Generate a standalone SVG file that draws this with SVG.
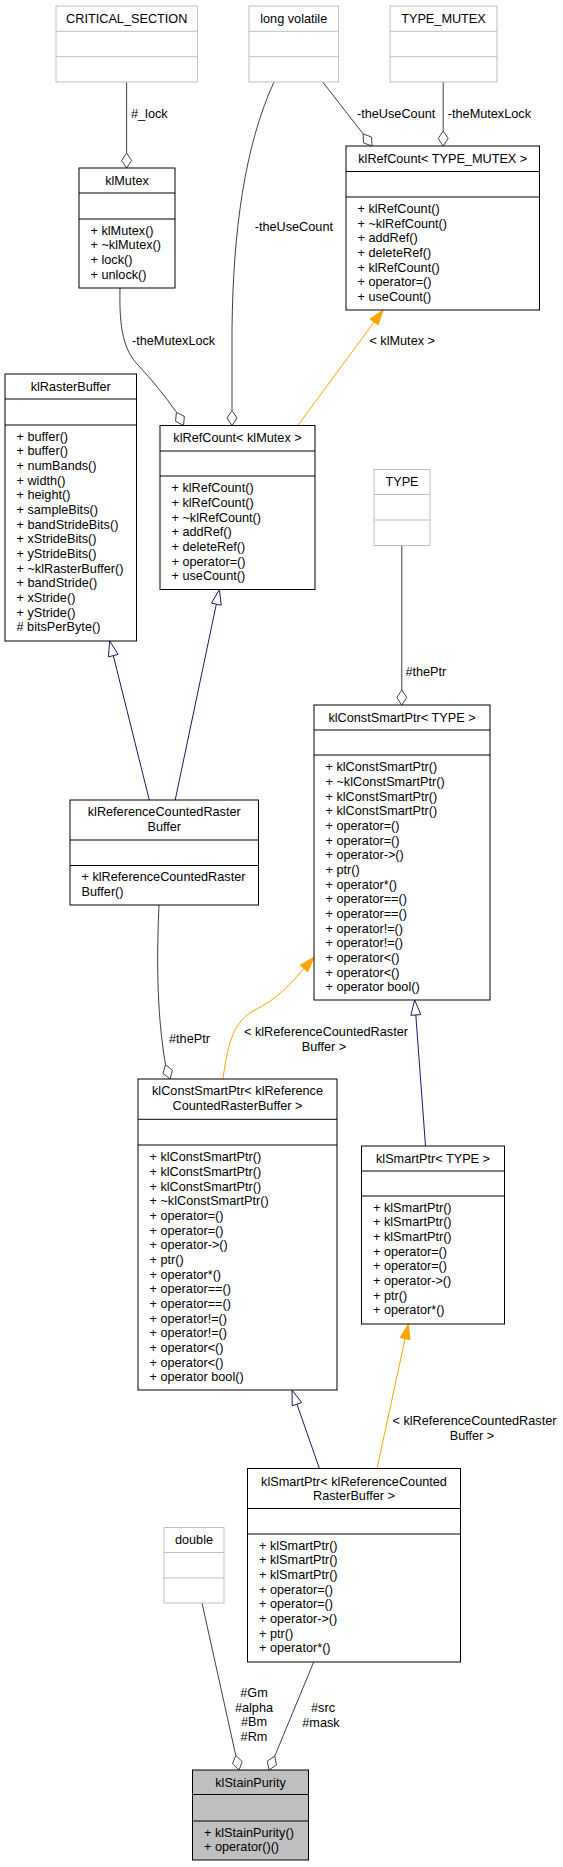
<svg xmlns="http://www.w3.org/2000/svg" width="563" height="1867" viewBox="0 0 563 1867">
<style>
text{font-family:"Liberation Sans",Arial,sans-serif;font-size:12.7px;fill:#000}
.c{text-anchor:middle}
.b{fill:#fff;stroke:#000;stroke-width:1}
.g{fill:#fff;stroke:#bfbfbf;stroke-width:1}
.s{fill:#bfbfbf;stroke:#000;stroke-width:1}
.lb{stroke:#000;stroke-width:1}
.lg{stroke:#bfbfbf;stroke-width:1}
.a{fill:none;stroke:#404040;stroke-width:1}
.i{fill:none;stroke:#191970;stroke-width:1}
.o{fill:none;stroke:#ffa500;stroke-width:1}
.dm{fill:#fff;stroke:#404040;stroke-width:1}
.ti{fill:#fff;stroke:#191970;stroke-width:1}
.to{fill:#ffa500;stroke:#ffa500;stroke-width:1}
</style>
<g id="connectors">
<path class="a" d="M126.6,82 L126.6,153"/>
<polygon class="dm" points="126.6,168 131.6,160.5 126.6,153 121.6,160.5"/>
<text x="131" y="117.5">#_lock</text>
<path class="a" d="M322.7,82 L363.1,133.9"/>
<polygon class="dm" points="372,146 371.57,137 363.09,133.94 363.53,142.94"/>
<text x="357" y="117.5">-theUseCount</text>
<path class="a" d="M443.2,82 L443.2,131"/>
<polygon class="dm" points="443.2,146 448.2,138.5 443.2,131 438.2,138.5"/>
<text x="447.8" y="117.5">-theMutexLock</text>
<path class="a" d="M120,288 C119,330 124,350 138,365 C152,380 165,396 176.44,412.27"/>
<polygon class="dm" points="183.5,425.5 184.38,416.53 176.44,412.27 175.56,421.24"/>
<text x="132" y="345">-theMutexLock</text>
<path class="a" d="M274,82 C245,145 233,230 232,330 L232,410.5"/>
<polygon class="dm" points="232,425.5 237,418 232,410.5 227,418"/>
<text x="254.7" y="231">-theUseCount</text>
<path class="o" d="M297.8,425.5 L374.09,322.07"/>
<polygon class="to" points="383,310 378.11,325.04 370.07,319.1"/>
<text x="369.4" y="345">&lt; klMutex &gt;</text>
<path class="a" d="M401.8,545.5 L401.8,690"/>
<polygon class="dm" points="401.8,705 406.8,697.5 401.8,690 396.8,697.5"/>
<text x="405.4" y="676">#thePtr</text>
<path class="i" d="M149.3,800 L113.3,655.6"/>
<polygon class="ti" points="109.7,641 118.15,654.39 108.45,656.81"/>
<path class="i" d="M175.2,800 L216.32,604.18"/>
<polygon class="ti" points="219.4,589.5 221.21,605.21 211.43,603.15"/>
<path class="a" d="M159,905 C157,950 156,1010 165.55,1064.68"/>
<polygon class="dm" points="170,1079 172.56,1070.36 165.55,1064.68 163,1073.32"/>
<text x="169" y="1043">#thePtr</text>
<path class="o" d="M223,1079 C228,1040 235,1020 255,1010 C272,1001 283,993 304.03,968.49"/>
<polygon class="to" points="314,957.3 307.76,971.82 300.3,965.17"/>
<text class="c" x="326" y="1036">&lt; klReferenceCountedRaster</text>
<text class="c" x="324" y="1051">Buffer &gt;</text>
<path class="i" d="M425.5,1146 L415.81,1014.96"/>
<polygon class="ti" points="414.7,1000 420.8,1014.59 410.82,1015.33"/>
<path class="i" d="M319.4,1468.5 L296.95,1404.17"/>
<polygon class="ti" points="292,1390 301.67,1402.52 292.23,1405.82"/>
<path class="o" d="M377,1468.5 L405.12,1338.66"/>
<polygon class="to" points="408.3,1324 410.01,1339.72 400.23,1337.6"/>
<text class="c" x="474.5" y="1425">&lt; klReferenceCountedRaster</text>
<text class="c" x="472" y="1440">Buffer &gt;</text>
<path class="a" d="M202,1603 L235.75,1755.36"/>
<polygon class="dm" points="239,1770 242.26,1761.6 235.75,1755.36 232.5,1763.76"/>
<text class="c" x="254" y="1697">#Gm</text>
<text class="c" x="254" y="1711.7">#alpha</text>
<text class="c" x="254" y="1726.3">#Bm</text>
<text class="c" x="254" y="1741">#Rm</text>
<path class="a" d="M313.7,1662 L274.74,1756.14"/>
<polygon class="dm" points="269,1770 276.49,1764.98 274.74,1756.14 267.25,1761.16"/>
<text class="c" x="323" y="1712">#src</text>
<text class="c" x="321" y="1726.7">#mask</text>
</g>
<g id="CRITICAL_SECTION">
<rect class="g" x="56" y="6" width="141.5" height="76"/>
<line class="lg" x1="56" y1="31.3" x2="197.5" y2="31.3"/>
<line class="lg" x1="56" y1="56.7" x2="197.5" y2="56.7"/>
<text class="c" x="126.75" y="22.7">CRITICAL_SECTION</text>
</g>
<g id="long_volatile">
<rect class="g" x="249" y="6" width="89.5" height="76"/>
<line class="lg" x1="249" y1="31.3" x2="338.5" y2="31.3"/>
<line class="lg" x1="249" y1="56.7" x2="338.5" y2="56.7"/>
<text class="c" x="293.75" y="22.7">long volatile</text>
</g>
<g id="TYPE_MUTEX">
<rect class="g" x="390" y="6" width="107" height="76"/>
<line class="lg" x1="390" y1="31.3" x2="497" y2="31.3"/>
<line class="lg" x1="390" y1="56.7" x2="497" y2="56.7"/>
<text class="c" x="443.5" y="22.7">TYPE_MUTEX</text>
</g>
<g id="klMutex">
<rect class="b" x="79" y="168" width="96" height="120"/>
<line class="lb" x1="79" y1="193" x2="175" y2="193"/>
<line class="lb" x1="79" y1="219" x2="175" y2="219"/>
<text class="c" x="127" y="184.7">klMutex</text>
<text x="90.5" y="234.5">+ klMutex()</text>
<text x="90.5" y="249.2">+ ~klMutex()</text>
<text x="90.5" y="263.8">+ lock()</text>
<text x="90.5" y="278.5">+ unlock()</text>
</g>
<g id="klRefCount_TYPE_MUTEX">
<rect class="b" x="346" y="146" width="193.5" height="164"/>
<line class="lb" x1="346" y1="171.5" x2="539.5" y2="171.5"/>
<line class="lb" x1="346" y1="197" x2="539.5" y2="197"/>
<text class="c" x="442.75" y="162.7">klRefCount&lt; TYPE_MUTEX &gt;</text>
<text x="357.5" y="212.8">+ klRefCount()</text>
<text x="357.5" y="227.5">+ ~klRefCount()</text>
<text x="357.5" y="242.1">+ addRef()</text>
<text x="357.5" y="256.8">+ deleteRef()</text>
<text x="357.5" y="271.5">+ klRefCount()</text>
<text x="357.5" y="286.2">+ operator=()</text>
<text x="357.5" y="300.8">+ useCount()</text>
</g>
<g id="klRasterBuffer">
<rect class="b" x="5" y="374" width="131.5" height="267"/>
<line class="lb" x1="5" y1="399" x2="136.5" y2="399"/>
<line class="lb" x1="5" y1="425" x2="136.5" y2="425"/>
<text class="c" x="70.75" y="390.7">klRasterBuffer</text>
<text x="16.5" y="440.5">+ buffer()</text>
<text x="16.5" y="455.2">+ buffer()</text>
<text x="16.5" y="469.8">+ numBands()</text>
<text x="16.5" y="484.5">+ width()</text>
<text x="16.5" y="499.2">+ height()</text>
<text x="16.5" y="513.8">+ sampleBits()</text>
<text x="16.5" y="528.5">+ bandStrideBits()</text>
<text x="16.5" y="543.2">+ xStrideBits()</text>
<text x="16.5" y="557.9">+ yStrideBits()</text>
<text x="16.5" y="572.5">+ ~klRasterBuffer()</text>
<text x="16.5" y="587.2">+ bandStride()</text>
<text x="16.5" y="601.9">+ xStride()</text>
<text x="16.5" y="616.5">+ yStride()</text>
<text x="16.5" y="631.2"># bitsPerByte()</text>
</g>
<g id="klRefCount_klMutex">
<rect class="b" x="160" y="425.5" width="155" height="164"/>
<line class="lb" x1="160" y1="451" x2="315" y2="451"/>
<line class="lb" x1="160" y1="476" x2="315" y2="476"/>
<text class="c" x="237.5" y="442">klRefCount&lt; klMutex &gt;</text>
<text x="171.5" y="492.2">+ klRefCount()</text>
<text x="171.5" y="506.9">+ klRefCount()</text>
<text x="171.5" y="521.5">+ ~klRefCount()</text>
<text x="171.5" y="536.2">+ addRef()</text>
<text x="171.5" y="550.9">+ deleteRef()</text>
<text x="171.5" y="565.5">+ operator=()</text>
<text x="171.5" y="580.2">+ useCount()</text>
</g>
<g id="TYPE">
<rect class="g" x="374" y="469.5" width="56" height="76"/>
<line class="lg" x1="374" y1="494.5" x2="430" y2="494.5"/>
<line class="lg" x1="374" y1="520" x2="430" y2="520"/>
<text class="c" x="402" y="486">TYPE</text>
</g>
<g id="klConstSmartPtr_TYPE">
<rect class="b" x="314" y="705" width="176" height="295"/>
<line class="lb" x1="314" y1="730" x2="490" y2="730"/>
<line class="lb" x1="314" y1="755" x2="490" y2="755"/>
<text class="c" x="402" y="721.5">klConstSmartPtr&lt; TYPE &gt;</text>
<text x="325.5" y="771.2">+ klConstSmartPtr()</text>
<text x="325.5" y="785.9">+ ~klConstSmartPtr()</text>
<text x="325.5" y="800.5">+ klConstSmartPtr()</text>
<text x="325.5" y="815.2">+ klConstSmartPtr()</text>
<text x="325.5" y="829.9">+ operator=()</text>
<text x="325.5" y="844.5">+ operator=()</text>
<text x="325.5" y="859.2">+ operator-&gt;()</text>
<text x="325.5" y="873.9">+ ptr()</text>
<text x="325.5" y="888.6">+ operator*()</text>
<text x="325.5" y="903.2">+ operator==()</text>
<text x="325.5" y="917.9">+ operator==()</text>
<text x="325.5" y="932.6">+ operator!=()</text>
<text x="325.5" y="947.2">+ operator!=()</text>
<text x="325.5" y="961.9">+ operator&lt;()</text>
<text x="325.5" y="976.6">+ operator&lt;()</text>
<text x="325.5" y="991.2">+ operator bool()</text>
</g>
<g id="klReferenceCountedRasterBuffer">
<rect class="b" x="70" y="800" width="188.5" height="105"/>
<line class="lb" x1="70" y1="840" x2="258.5" y2="840"/>
<line class="lb" x1="70" y1="865.5" x2="258.5" y2="865.5"/>
<text class="c" x="164.25" y="816.2">klReferenceCountedRaster</text>
<text class="c" x="164.25" y="830.8">Buffer</text>
<text x="81.5" y="881.2">+ klReferenceCountedRaster</text>
<text x="81.5" y="895.8">Buffer()</text>
</g>
<g id="klConstSmartPtr_klReferenceCountedRasterBuffer">
<rect class="b" x="138" y="1079" width="199" height="311"/>
<line class="lb" x1="138" y1="1119.3" x2="337" y2="1119.3"/>
<line class="lb" x1="138" y1="1145" x2="337" y2="1145"/>
<text class="c" x="237.5" y="1095.2">klConstSmartPtr&lt; klReference</text>
<text class="c" x="237.5" y="1110.2">CountedRasterBuffer &gt;</text>
<text x="149.5" y="1161.2">+ klConstSmartPtr()</text>
<text x="149.5" y="1175.9">+ klConstSmartPtr()</text>
<text x="149.5" y="1190.5">+ klConstSmartPtr()</text>
<text x="149.5" y="1205.2">+ ~klConstSmartPtr()</text>
<text x="149.5" y="1219.9">+ operator=()</text>
<text x="149.5" y="1234.5">+ operator=()</text>
<text x="149.5" y="1249.2">+ operator-&gt;()</text>
<text x="149.5" y="1263.9">+ ptr()</text>
<text x="149.5" y="1278.6">+ operator*()</text>
<text x="149.5" y="1293.2">+ operator==()</text>
<text x="149.5" y="1307.9">+ operator==()</text>
<text x="149.5" y="1322.6">+ operator!=()</text>
<text x="149.5" y="1337.2">+ operator!=()</text>
<text x="149.5" y="1351.9">+ operator&lt;()</text>
<text x="149.5" y="1366.6">+ operator&lt;()</text>
<text x="149.5" y="1381.2">+ operator bool()</text>
</g>
<g id="klSmartPtr_TYPE">
<rect class="b" x="361.5" y="1146" width="143" height="178"/>
<line class="lb" x1="361.5" y1="1171" x2="504.5" y2="1171"/>
<line class="lb" x1="361.5" y1="1196" x2="504.5" y2="1196"/>
<text class="c" x="433" y="1162.5">klSmartPtr&lt; TYPE &gt;</text>
<text x="373" y="1211.5">+ klSmartPtr()</text>
<text x="373" y="1226.2">+ klSmartPtr()</text>
<text x="373" y="1240.8">+ klSmartPtr()</text>
<text x="373" y="1255.5">+ operator=()</text>
<text x="373" y="1270.2">+ operator=()</text>
<text x="373" y="1284.8">+ operator-&gt;()</text>
<text x="373" y="1299.5">+ ptr()</text>
<text x="373" y="1314.2">+ operator*()</text>
</g>
<g id="klSmartPtr_klReferenceCountedRasterBuffer">
<rect class="b" x="247.5" y="1468.5" width="213" height="193.5"/>
<line class="lb" x1="247.5" y1="1508.5" x2="460.5" y2="1508.5"/>
<line class="lb" x1="247.5" y1="1534" x2="460.5" y2="1534"/>
<text class="c" x="354" y="1485.5">klSmartPtr&lt; klReferenceCounted</text>
<text class="c" x="354" y="1500">RasterBuffer &gt;</text>
<text x="259" y="1549.5">+ klSmartPtr()</text>
<text x="259" y="1564.2">+ klSmartPtr()</text>
<text x="259" y="1578.8">+ klSmartPtr()</text>
<text x="259" y="1593.5">+ operator=()</text>
<text x="259" y="1608.2">+ operator=()</text>
<text x="259" y="1622.8">+ operator-&gt;()</text>
<text x="259" y="1637.5">+ ptr()</text>
<text x="259" y="1652.2">+ operator*()</text>
</g>
<g id="double">
<rect class="g" x="164" y="1527.5" width="60" height="75.5"/>
<line class="lg" x1="164" y1="1552.5" x2="224" y2="1552.5"/>
<line class="lg" x1="164" y1="1578" x2="224" y2="1578"/>
<text class="c" x="194" y="1544">double</text>
</g>
<g id="klStainPurity">
<rect class="s" x="192.5" y="1770" width="116" height="90"/>
<line class="lb" x1="192.5" y1="1794.5" x2="308.5" y2="1794.5"/>
<line class="lb" x1="192.5" y1="1821" x2="308.5" y2="1821"/>
<text class="c" x="250.5" y="1786.5">klStainPurity</text>
<text x="204" y="1836.8">+ klStainPurity()</text>
<text x="204" y="1851.4">+ operator()()</text>
</g>
</svg>
